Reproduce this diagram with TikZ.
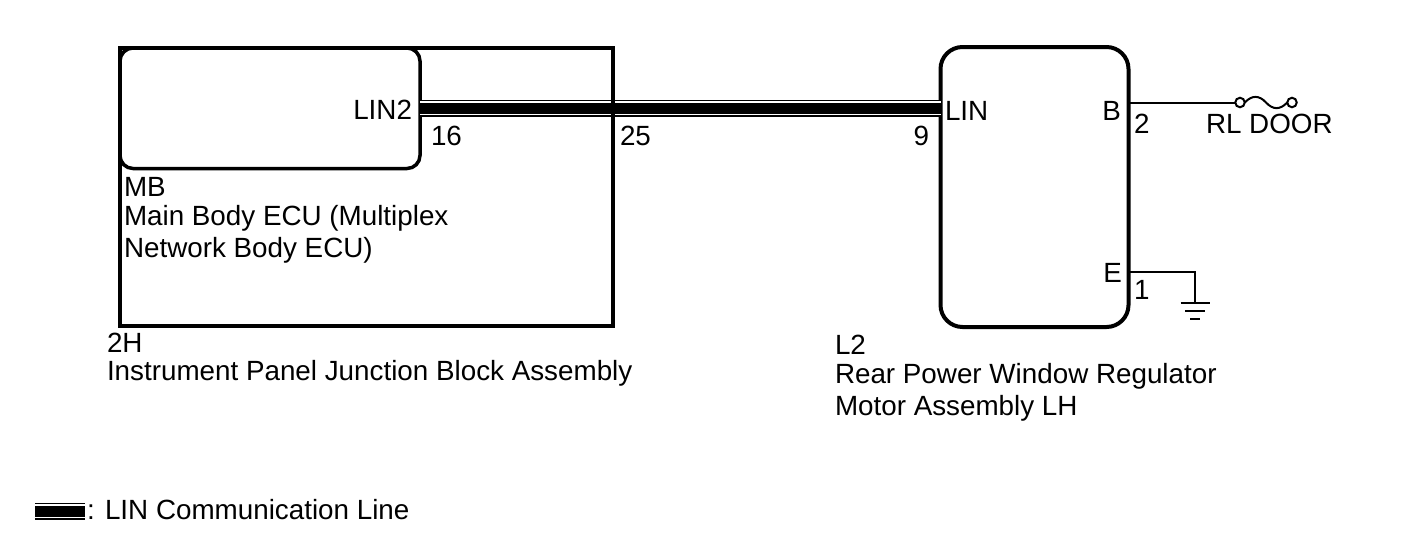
\documentclass[tikz,border=0pt]{standalone}
\usepackage{fontspec}
\setmainfont{Liberation Sans}
\begin{document}
\begin{tikzpicture}[x=1pt,y=-1pt,
  every node/.style={font=\fontsize{27.8}{32}\selectfont, inner sep=0pt, outer sep=0pt},
  box/.style={draw, line width=3.5pt, minimum width=#1},
  wire/.style={line width=2pt},
  linblack/.style={line width=17pt},
  linwhite/.style={line width=14pt, white},
  lincore/.style={line width=11pt},
  lbl/.style={anchor=base west},
  lblr/.style={anchor=base east}]
\useasboundingbox (0,0) rectangle (1424,558);
% boxes
\node[box=493pt, minimum height=278pt] (jb) at (366.5,187) {};
\node[box=300pt, minimum height=120.5pt, rounded corners=13pt] (ecu) at (270,108.25) {};
\node[box=188pt, minimum height=280pt, line width=4pt, rounded corners=22pt] (motor) at (1034.5,187) {};
% LIN line
\draw[linblack] (ecu.east) -- (ecu.east -| motor.west);
\draw[linwhite] (ecu.east) -- (ecu.east -| motor.west);
\draw[lincore] (ecu.east) -- (ecu.east -| motor.west);
\draw[line width=3.5pt] (jb.north east) -- (jb.south east);
% B wire with fuse
\node[circle, draw, line width=2pt, minimum size=9.5pt] (f1) at (1240,102.5) {};
\node[circle, draw, line width=2pt, minimum size=9.5pt] (f2) at (1292,102.5) {};
\draw[wire] (motor.east |- f1) -- (f1.west);
\draw[wire] (f1.east) .. controls (1252,95) and (1259,95) .. (1266,102.5) .. controls (1273,110) and (1280,110) .. (f2.west);
% E wire with ground
\coordinate (eY) at (0,272);
\coordinate (gnd) at (1195,303);
\draw[wire] (motor.east |- eY) -- (gnd |- eY) -- (gnd);
\draw[wire] ([xshift=-14.5pt]gnd) -- ([xshift=14.5pt]gnd);
\draw[wire] ([xshift=-10pt,yshift=-8pt]gnd) -- ([xshift=10pt,yshift=-8pt]gnd);
\draw[wire] ([xshift=-5pt,yshift=-16pt]gnd) -- ([xshift=5pt,yshift=-16pt]gnd);
% pin labels
\node[lblr] (tLIN2) at (412,119) {LIN2};
\node[lbl] (t16) at (431,145) {16};
\node[lbl] (t25) at (620,145) {25};
\node[lblr] (t9) at (929,145) {9};
\node[lbl] (tLIN) at (945,120) {LIN};
\node[lblr] (tB) at (1121,120) {B};
\node[lbl] (t2) at (1134,133) {2};
\node[lbl] (tRL) at (1206,133) {RL DOOR};
\node[lblr] (tE) at (1122,282) {E};
\node[lbl] (t1) at (1134,299) {1};
% component labels
\node[lbl] (tMB) at (124,196) {MB};
\node[lbl] (tMB2) at (124,225) {Main Body ECU (Multiplex};
\node[lbl] (tMB3) at (124,257) {Network Body ECU)};
\node[lbl] (t2H) at (107,352) {2H};
\node[lbl] (t2H2) at (107,380) {Instrument Panel Junction Block Assembly};
\node[lbl] (tL2) at (835,354) {L2};
\node[lbl] (tL22) at (835,383) {Rear Power Window Regulator};
\node[lbl] (tL23) at (835,415) {Motor Assembly LH};
% legend
\coordinate (legL) at (35,511);
\coordinate (legR) at (85,511);
\draw[linblack] (legL) -- (legR);
\draw[linwhite] (legL) -- (legR);
\draw[lincore] (legL) -- (legR);
\node[lbl] (tleg) at (87,519) {: LIN Communication Line};
\end{tikzpicture}
\end{document}
